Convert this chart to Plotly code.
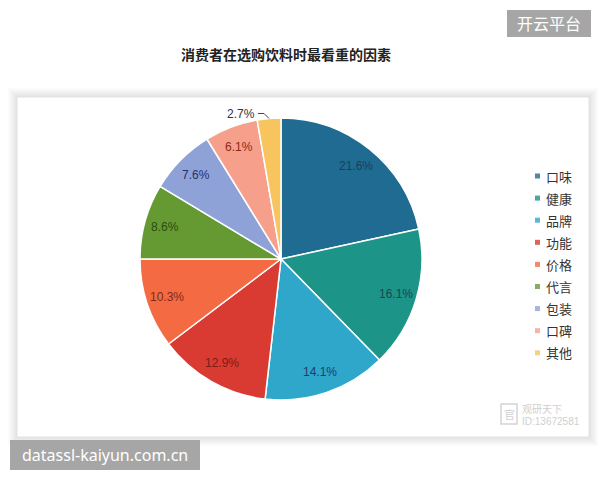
import math
import plotly.graph_objects as go

# ---------------- data ----------------
title_text = "消费者在选购饮料时最看重的因素"
categories = ["口味", "健康", "品牌", "功能", "价格", "代言", "包装", "口碑", "其他"]
values = [21.6, 16.1, 14.1, 12.9, 10.3, 8.6, 7.6, 6.1, 2.7]
slice_colors = ["#1f6b91", "#1c9488", "#2ea7cb", "#d93a31", "#f46a42",
                "#659a32", "#8fa2d8", "#f6a08b", "#f7c45e"]
label_colors = ["#1d3d5e", "#1c4650", "#1d3d6b", "#7a1e1a", "#7d2b1a",
                "#2c4a14", "#26306b", "#8a2a1a", "#333333"]
outside_labels = [False] * 8 + [True]

W, H = 600, 480
cx, cy, r = 281, 259, 141


def px(x):
    return x / W


def py(y):
    return 1 - y / H


def note(x, y, text, size, color, family, xanchor="center"):
    return dict(x=px(x), y=py(y), xref="paper", yref="paper", text=text,
                showarrow=False, xanchor=xanchor, yanchor="middle",
                font=dict(family=family, size=size, color=color))


fig = go.Figure()
fig.add_trace(go.Pie(
    labels=categories, values=values, sort=False, direction="clockwise",
    rotation=0,
    marker=dict(colors=slice_colors, line=dict(color="white", width=1.5)),
    textinfo="none", hoverinfo="label+percent", showlegend=False,
    domain=dict(x=[px(cx - r), px(cx + r)], y=[py(cy + r), py(cy - r)]),
))

shapes = []
annotations = []

# panel shadow + panel
px0, px1, py0, py1 = 17, 589, 97, 437
for k in range(9, 0, -1):
    shapes.append(dict(type="rect", xref="paper", yref="paper", layer="below",
                       x0=px(px0 - k), x1=px(px1 + k), y0=py(py1 + k), y1=py(py0 - k),
                       fillcolor="rgba(0,0,0,0.013)", line=dict(width=0)))
shapes.append(dict(type="rect", xref="paper", yref="paper", layer="below",
                   x0=px(px0), x1=px(px1), y0=py(py1), y1=py(py0),
                   fillcolor="white", line=dict(color="#e2e2e2", width=1)))

# slice labels
total = sum(values)
cum = 0.0
lab_font = "Liberation Sans Narrow, Arial Narrow, Liberation Sans, Arial"
for i, v in enumerate(values):
    mid = (cum + v / 2) / total
    cum += v
    th = 2 * math.pi * mid
    txt = f"{v:.1f}%"
    if not outside_labels[i]:
        lx = cx + 0.85 * r * math.sin(th)
        ly = cy - 0.85 * r * math.cos(th)
        annotations.append(note(lx, ly, txt, 12, label_colors[i], lab_font))
    else:
        ex = cx + r * math.sin(th)
        ey = cy - r * math.cos(th)
        bx, by = ex - 5, ey - 5
        tx, ty = bx - 6, by
        shapes.append(dict(type="path", xref="paper", yref="paper",
                           path=f"M {px(ex)},{py(ey)} L {px(bx)},{py(by)} L {px(tx)},{py(ty)}",
                           line=dict(color="#444", width=1)))
        annotations.append(note(tx - 1, ty, txt, 12, label_colors[i], lab_font, "right"))

# manual legend
cjk = "Noto Sans CJK SC, Noto Sans, sans-serif"
for i, cat in enumerate(categories):
    ly = 176 + i * 22.1
    shapes.append(dict(type="rect", xref="paper", yref="paper",
                       x0=px(535), x1=px(540), y0=py(ly + 2.5), y1=py(ly - 2.5),
                       fillcolor=slice_colors[i], line=dict(width=0), opacity=0.8))
    annotations.append(note(544, ly, cat, 13, "#333", cjk, "left"))

# title
annotations.append(note(286, 54, f"<b>{title_text}</b>", 14, "#222", cjk))

# watermark boxes
shapes.append(dict(type="rect", xref="paper", yref="paper",
                   x0=px(507), x1=px(591), y0=py(37), y1=py(10),
                   fillcolor="#a6a6a6", line=dict(width=0)))
annotations.append(note(549, 23.5, "开云平台", 16, "white", cjk))
shapes.append(dict(type="rect", xref="paper", yref="paper",
                   x0=px(10), x1=px(200), y0=py(470), y1=py(440),
                   fillcolor="#a6a6a6", line=dict(width=0)))
annotations.append(note(105, 455, "datassl-kaiyun.com.cn", 16, "white",
                        "Noto Sans, sans-serif"))

# faint source watermark
shapes.append(dict(type="rect", xref="paper", yref="paper",
                   x0=px(501), x1=px(517), y0=py(424), y1=py(404),
                   fillcolor="rgba(0,0,0,0)", line=dict(color="#d4d4d4", width=1.5)))
annotations.append(note(509, 414, "官", 11, "#d0d0d0", cjk))
annotations.append(note(520, 408, "观研天下", 10, "#cfcfcf", cjk, "left"))
annotations.append(note(520, 421, "ID:13672581", 10, "#cfcfcf",
                        "Liberation Sans, Arial", "left"))

fig.update_layout(
    width=W, height=H, margin=dict(l=0, r=0, t=0, b=0),
    paper_bgcolor="white", plot_bgcolor="white",
    shapes=shapes, annotations=annotations, showlegend=False,
)

fig.write_html("out.html")
